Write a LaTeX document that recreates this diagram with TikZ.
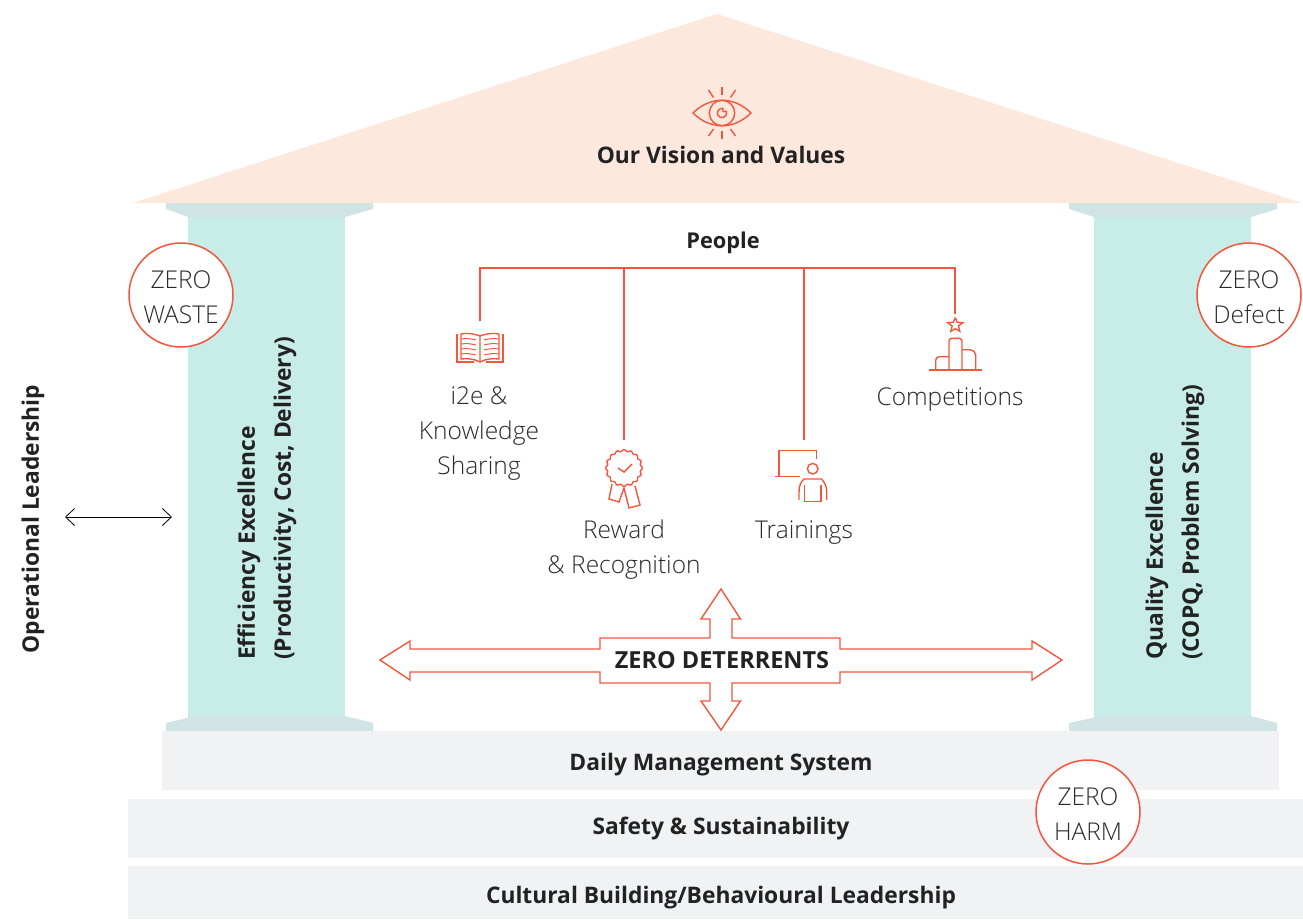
\documentclass[tikz,border=0pt]{standalone}
\usepackage{fontspec}
\setmainfont{Open Sans}
\newfontfamily\lightfont{Open Sans Light}
\usetikzlibrary{arrows.meta}
\definecolor{roofpink}{HTML}{FDE8DE}
\definecolor{pillarteal}{HTML}{C8ECE7}
\definecolor{capteal}{HTML}{D0E4E5}
\definecolor{bargrey}{HTML}{F0F2F4}
\definecolor{linered}{HTML}{F4563C}
\definecolor{textgrey}{HTML}{2A2A2A}
\definecolor{textdark}{HTML}{222222}
\tikzset{
	boldtext/.style = {font=\fontsize{22.8}{36}\selectfont\bfseries, text=textdark, inner sep=0pt, align=left},
	plaintext/.style = {font=\lightfont\fontsize{24.5}{35}\selectfont, text=textgrey, inner sep=0pt, align=center},
	zerocircle/.style = {circle, draw=linered, fill=white, line width=1.5pt, minimum size=104pt, inner sep=0pt, font=\lightfont\fontsize{24.5}{35}\selectfont, text=textgrey, align=center},
	iconline/.style = {draw=linered, line width=1.4pt},
	treeline/.style = {draw=linered, line width=1.5pt}
}
\begin{document}
\begin{tikzpicture}[x=1pt,y=-1pt]
	\useasboundingbox (0,0) rectangle (1303,919);
	\fill [pillarteal] (188,210) rectangle (345,725);
	\fill [pillarteal] (1094,210) rectangle (1251,725);
	\fill [capteal] (166,201) -- (373,201) -- (373,209) -- (345,217) -- (188,217) -- (166,209) -- cycle;
	\fill [capteal] (1069,201) -- (1277,201) -- (1277,209) -- (1251,217) -- (1094,217) -- (1069,209) -- cycle;
	\fill [capteal] (166,732) -- (373,732) -- (373,723) -- (345,716) -- (200,715) -- (166,723) -- cycle;
	\fill [capteal] (1069,732) -- (1277,732) -- (1277,723) -- (1251,716) -- (1106,715) -- (1069,723) -- cycle;
	\fill [roofpink] (133,203) -- (717,14) -- (1302,203) -- cycle;
	\fill [bargrey] (162,731) rectangle (1279,790);
	\fill [bargrey] (128,799) rectangle (1303,858);
	\fill [bargrey] (128,866) rectangle (1303,919);

	\node [boldtext] (daily) at (721,765) {Daily Management System};
	\node [boldtext] (safety) at (721,829) {Safety \& Sustainability};
	\node [boldtext] (culture) at (721,898) {Cultural Building/Behavioural Leadership};
	\node [boldtext] (vision) at (721,155) {Our Vision and Values};
	\node [boldtext] (people) at (723,243) {\fontsize{21.8}{26}\selectfont People};
	\node [boldtext, rotate=90] (oplead) at (33,519) {Operational Leadership};
	\node [boldtext, rotate=90, anchor=west] (efficiency) at (267,660) {Efficiency Excellence\\(Productivity, Cost, Delivery)};
	\node [boldtext, rotate=90, anchor=west] (quality) at (1175,660) {Quality Excellence\\(COPQ, Problem Solving)};

	\node [zerocircle] (waste) at (181,295) {\\[-13pt]ZERO\\WASTE};
	\node [zerocircle] (defect) at (1249,295) {\\[-13pt]ZERO\\Defect};
	\node [zerocircle] (harm) at (1088,812) {\\[-13pt]ZERO\\HARM};

	\coordinate (oplend) at (65,517);
	\coordinate (effend) at (172,517);
	\draw [<->, >={Straight Barb[length=9pt,width=17pt]}, line width=0.8pt] (oplend) -- (effend);

	\coordinate (bookbus) at (480,268);
	\coordinate (rewardbus) at (624,268);
	\coordinate (trainbus) at (804,268);
	\coordinate (compbus) at (955,268);
	\coordinate (booktop) at (480,321);
	\coordinate (rewardtop) at (624,440);
	\coordinate (traintop) at (804,440);
	\coordinate (comptop) at (955,314);
	\draw [treeline] (booktop) -- (bookbus) -- (compbus) -- (comptop);
	\draw [treeline] (rewardbus) -- (rewardtop);
	\draw [treeline] (trainbus) -- (traintop);

	\node [plaintext] (sharing) at (479,434) {i2e \&\\Knowledge\\Sharing};
	\node [plaintext] (reward) at (624,550) {Reward\\\& Recognition};
	\node [plaintext] (trainings) at (804,533) {Trainings};
	\node [plaintext] (competitions) at (950,400) {Competitions};

	\begin{scope}[shift={(722,113)}]
		\draw [iconline] (-29,0) .. controls (-12,-17) and (12,-17) .. (29,0) .. controls (12,17) and (-12,17) .. (-29,0) -- cycle;
		\draw [iconline] (0,0) circle [radius=12.7];
		\draw [iconline] (4.4,-1.6) arc [start angle=-20, end angle=280, radius=4.7] -- (1,-1.5) -- cycle;
		\draw [iconline] (0,-26) -- (0,-18);
		\draw [iconline] (-13.5,-23) -- (-8.5,-15.5);
		\draw [iconline] (13.5,-23) -- (8.5,-15.5);
		\draw [iconline] (0,18) -- (0,26);
		\draw [iconline] (-8.5,16) -- (-13.5,23);
		\draw [iconline] (8.5,16) -- (13.5,23);
	\end{scope}

	\begin{scope}[shift={(480,348)}]
		\draw [iconline] (0,-12) .. controls (-8,-15) and (-15,-15) .. (-19,-14) -- (-19,11) .. controls (-12,10) and (-6,11) .. (0,14) .. controls (6,11) and (12,10) .. (19,11) -- (19,-14) .. controls (15,-15) and (8,-15) .. (0,-12) -- (0,14);
		\draw [iconline] (-23,-14) -- (-23,14) -- (-6,14) (23,-14) -- (23,14) -- (6,14);
		\foreach \y in {-9,-4,1,6} {
			\draw [iconline, line width=1pt] (-19,\y) .. controls (-13,\y-1) and (-8,\y) .. (-4,\y+1);
			\draw [iconline, line width=1pt] (19,\y) .. controls (13,\y-1) and (8,\y) .. (4,\y+1);
		}
	\end{scope}

	\begin{scope}[shift={(624,468)}]
		\draw [iconline] plot [domain=0:360, samples=145, smooth] (\x:{17.5+0.9*cos(16*\x)}) -- cycle;
		\draw [iconline] (-6,0) -- (0,4) -- (8,-4);
		\draw [iconline] (-12,16) -- (-15,31) -- (-5,34) -- (0,20) -- (5,40) -- (16,37) -- (11,18);
	\end{scope}

	\begin{scope}[shift={(750,400)}]
		\draw [iconline] (66.5,59) -- (66.5,50.5) -- (29,50.5) -- (29,76.5);
		\draw [iconline] (25,76.5) -- (50,76.5);
		\draw [iconline] (62.7,68.7) circle [radius=5.3];
		\draw [iconline] (49,100) -- (49,92) .. controls (49,85) and (51,82) .. (54,79) -- (71.5,79) .. controls (74,82) and (76.7,85) .. (76.7,92) -- (76.7,100);
		\draw [iconline] (54.5,85) -- (54.5,101.5) -- (71,101.5) -- (71,85);
	\end{scope}

	\begin{scope}[shift={(750,300)}]
		\draw [iconline] plot coordinates {(205.3,17.5) (207.2,22.2) (212.8,22.7) (208.5,25.9) (209.8,31.3) (205.3,28.7) (200.8,31.3) (202.1,25.9) (197.8,22.7) (203.4,22.2) (205.3,17.5)};
		\draw [iconline] (179.3,70) -- (231.7,70);
		\draw [iconline] (185.7,70) -- (185.7,60.5) .. controls (185.7,58) and (187,56.7) .. (189,56.7) -- (199,56.7);
		\draw [iconline] (199,70) -- (199,41) .. controls (199,39) and (201,38.3) .. (202,38.3) -- (209,38.3) .. controls (210,38.3) and (212,39) .. (212,41) -- (212,70);
		\draw [iconline] (212,49.7) -- (220,49.7) .. controls (223,49.7) and (225.7,52) .. (225.7,55) -- (225.7,70);
	\end{scope}

	\draw [line width=1.4pt, draw=linered, fill=white]
		(380,660) -- (410,641) -- (410,649) -- (600,649) -- (600,638) -- (710,638) -- (710,619) -- (701,619) -- (721,589) -- (740.5,619) -- (732,619) -- (732,638) -- (840,638) -- (840,649) -- (1032,649) -- (1032,641) -- (1062,660) -- (1032,680) -- (1032,672) -- (840,672) -- (840,683) -- (732,683) -- (732,701) -- (740.5,701) -- (721,730) -- (701,701) -- (710,701) -- (710,683) -- (600,683) -- (600,672) -- (410,672) -- (410,680) -- cycle;
	\node [boldtext] (deterrents) at (722,660) {\fontsize{23.5}{36}\selectfont ZERO DETERRENTS};
\end{tikzpicture}
\end{document}
